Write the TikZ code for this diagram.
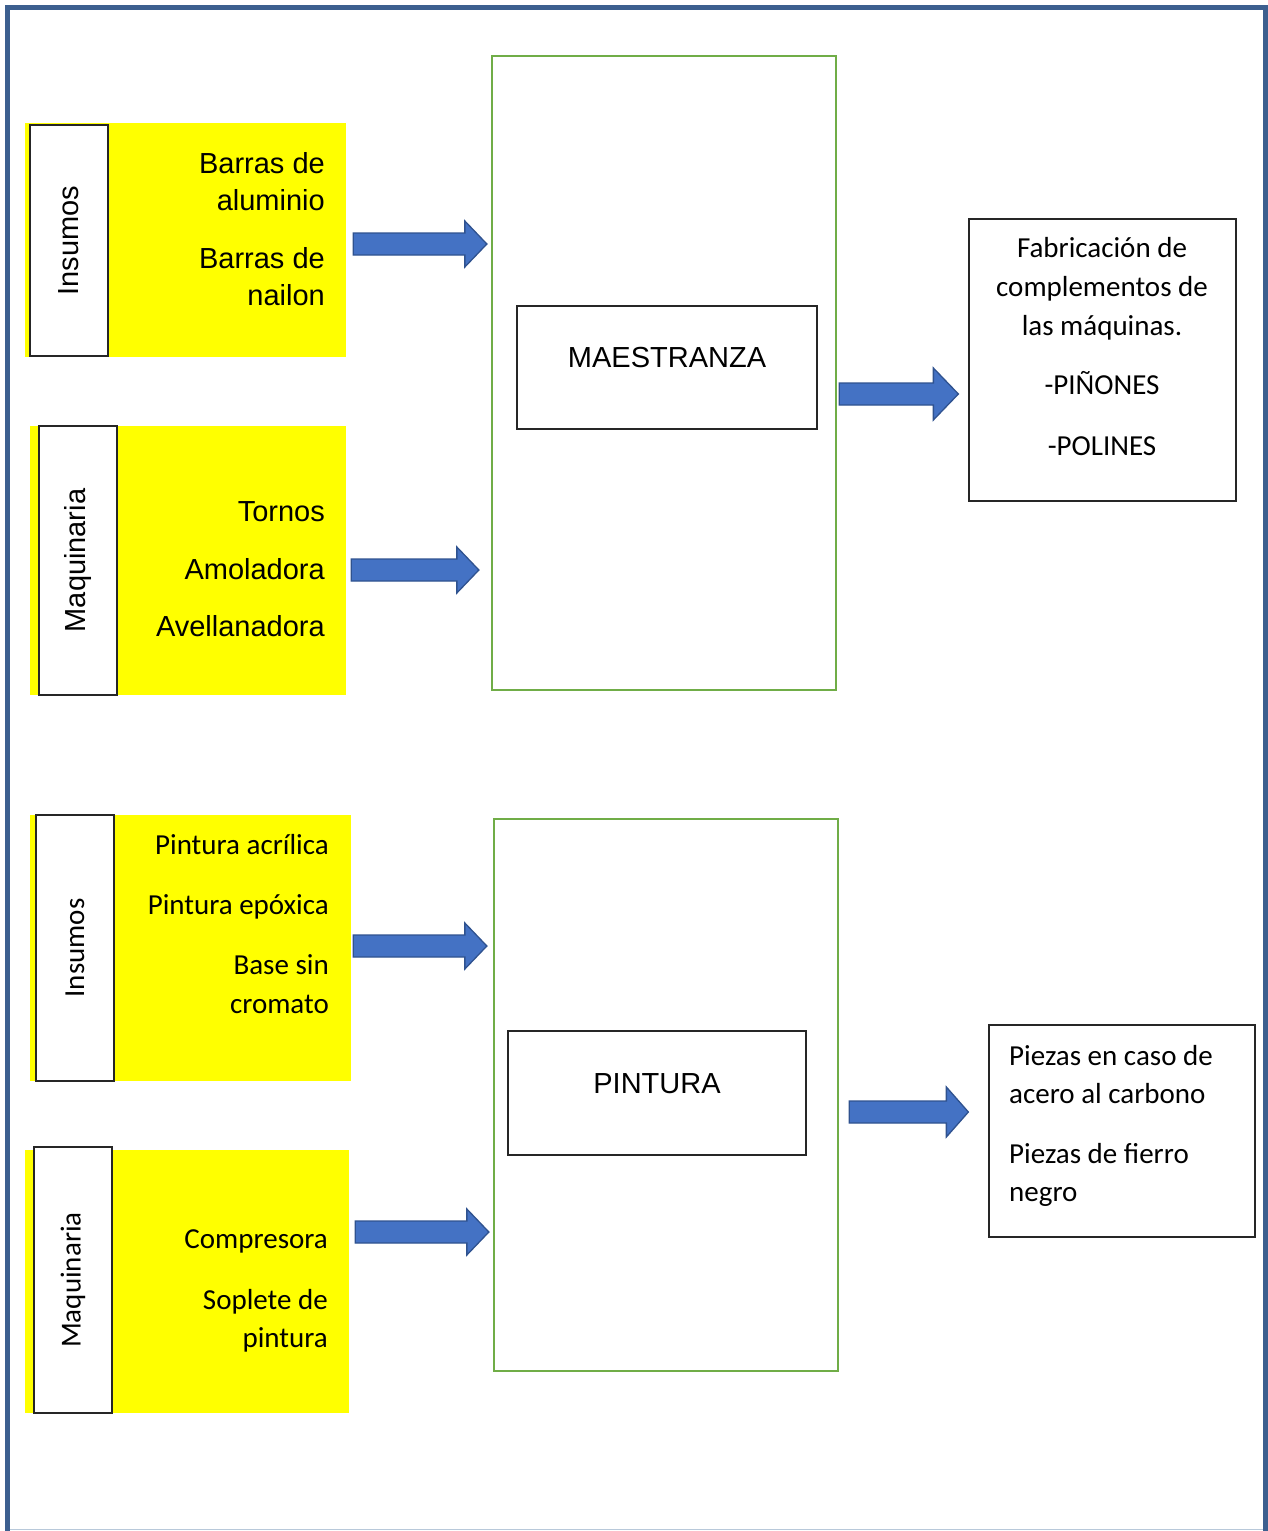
\documentclass[tikz,border=0pt]{standalone}
\usepackage{fontspec}
\setmainfont{Liberation Sans}
\newfontfamily\calibri{Carlito}
\usetikzlibrary{calc}

\definecolor{framecol}{HTML}{3C5F8F}
\definecolor{framelight}{HTML}{B8C9DA}
\definecolor{panelyellow}{HTML}{FFFF00}
\definecolor{procgreen}{HTML}{70AD47}
\definecolor{arrowfill}{HTML}{4472C4}
\definecolor{arrowedge}{HTML}{2F528F}

% block arrow: #1 start point, #2 tip, #3 half head width, #4 head length
\newcommand\fatarrow[4]{%
  \draw[fatarrow] ($(#1)+(0,-11)$) -- ($(#2)+(-#4,-11)$) -- ($(#2)+(-#4,-#3)$)
    -- (#2) -- ($(#2)+(-#4,#3)$) -- ($(#2)+(-#4,11)$) -- ($(#1)+(0,11)$) -- cycle;}

\begin{document}
\begin{tikzpicture}[x=1pt, y=-1pt,
  every node/.style={font=\fontsize{29}{37}\selectfont},
  panel/.style={fill=panelyellow, draw=none, inner sep=0},
  tagbox/.style={draw=black!85, line width=1.5pt, fill=white, rotate=90, inner sep=0},
  stage/.style={draw=procgreen, line width=2.3pt, inner sep=0},
  namebox/.style={draw=black!85, line width=1.3pt, inner sep=0, text height=10pt, text depth=10pt},
  outbox/.style={draw=black!85, line width=1.3pt, inner sep=0},
  item/.style={anchor=base east, inner sep=0},
  citem/.style={anchor=base east, inner sep=0, font=\calibri\fontsize{29}{37}\selectfont},
  ctext/.style={inner sep=0, font=\calibri\fontsize{29}{37}\selectfont},
  fatarrow/.style={fill=arrowfill, draw=arrowedge, line width=1.3pt, line join=miter}]

\useasboundingbox (0,0) rectangle (1268,1531);

% page frame
\draw[framelight, line width=1.5pt] (10,1529.5) -- (1263,1529.5);
\draw[framecol, line width=5pt] (7.5,1531) -- (7.5,7.5) -- (1265,7.5) -- (1265,1531);

% ---------- MAESTRANZA ----------
\node[panel, minimum width=321, minimum height=234] (p1) at (185.5,240) {};
\node[tagbox, minimum width=231, minimum height=78] (l1) at (69,240.5) {Insumos};
\node[item] (p1a) at (325,173) {Barras de};
\node[item] (p1b) at (325,210) {aluminio};
\node[item] (p1c) at (325,268) {Barras de};
\node[item] (p1d) at (325,305) {nailon};

\node[panel, minimum width=316, minimum height=269] (p2) at (188,560.5) {};
\node[tagbox, minimum width=269, minimum height=78] (l2) at (78,560.5) {Maquinaria};
\node[item] (p2a) at (325,521) {Tornos};
\node[item] (p2b) at (325,579) {Amoladora};
\node[item] (p2c) at (325,636) {Avellanadora};

\node[stage, minimum width=344, minimum height=634] (g1) at (664,373) {};
\node[namebox, minimum width=300, minimum height=123] (m1) at (667,367.5) {MAESTRANZA};

\node[outbox, minimum width=267, minimum height=282] (r1) at (1102.5,360) {};
\node[ctext, anchor=base] (r1a) at (1102,257) {Fabricación de};
\node[ctext, anchor=base] (r1b) at (1102,296) {complementos de};
\node[ctext, anchor=base] (r1c) at (1102,335) {las máquinas.};
\node[ctext, anchor=base] (r1d) at (1102,394) {-PIÑONES};
\node[ctext, anchor=base] (r1e) at (1102,455) {-POLINES};

\coordinate (a1s) at ($(p1.east)+(7,4)$);
\coordinate (a1e) at ($(a1s -| g1.west)+(-4,0)$);
\fatarrow{a1s}{a1e}{23}{22}
\coordinate (a2s) at ($(p2.east)+(5,9.5)$);
\coordinate (a2e) at ($(a2s -| g1.west)+(-12,0)$);
\fatarrow{a2s}{a2e}{23}{22}
\coordinate (a3s) at ($(g1.east)+(2,21)$);
\coordinate (a3e) at ($(a3s -| r1.west)+(-10,0)$);
\fatarrow{a3s}{a3e}{26}{25}

% ---------- PINTURA ----------
\node[panel, minimum width=321, minimum height=266] (p3) at (190.5,948) {};
\node[tagbox, minimum width=266, minimum height=78, font=\calibri\fontsize{29}{37}\selectfont] (l3) at (75,948) {Insumos};
\node[citem] (p3a) at (329,854) {Pintura acrílica};
\node[citem] (p3b) at (329,914) {Pintura epóxica};
\node[citem] (p3c) at (329,974) {Base sin};
\node[citem] (p3d) at (329,1013) {cromato};

\node[panel, minimum width=324, minimum height=263] (p4) at (187,1281.5) {};
\node[tagbox, minimum width=266, minimum height=78, font=\calibri\fontsize{29}{37}\selectfont] (l4) at (73,1280) {Maquinaria};
\node[citem] (p4a) at (328,1248) {Compresora};
\node[citem] (p4b) at (328,1309) {Soplete de};
\node[citem] (p4c) at (328,1347) {pintura};

\node[stage, minimum width=344, minimum height=552] (g2) at (666,1095) {};
\node[namebox, minimum width=298, minimum height=124] (m2) at (657,1093) {PINTURA};

\node[outbox, minimum width=266, minimum height=212] (r2) at (1122,1131) {};
\node[ctext, anchor=base west] (r2a) at (1009,1065) {Piezas en caso de};
\node[ctext, anchor=base west] (r2b) at (1009,1103) {acero al carbono};
\node[ctext, anchor=base west] (r2c) at (1009,1163) {Piezas de fierro};
\node[ctext, anchor=base west] (r2d) at (1009,1201) {negro};

\coordinate (a4s) at ($(p3.east)+(2,-2)$);
\coordinate (a4e) at ($(a4s -| g2.west)+(-6,0)$);
\fatarrow{a4s}{a4e}{23}{22}
\coordinate (a5s) at ($(g2.east)+(10,17)$);
\coordinate (a5e) at ($(a5s -| r2.west)+(-20,0)$);
\fatarrow{a5s}{a5e}{25}{22}
\coordinate (a6s) at ($(p4.east)+(6,-49.5)$);
\coordinate (a6e) at ($(a6s -| g2.west)+(-4,0)$);
\fatarrow{a6s}{a6e}{23}{22}
\end{tikzpicture}
\end{document}
